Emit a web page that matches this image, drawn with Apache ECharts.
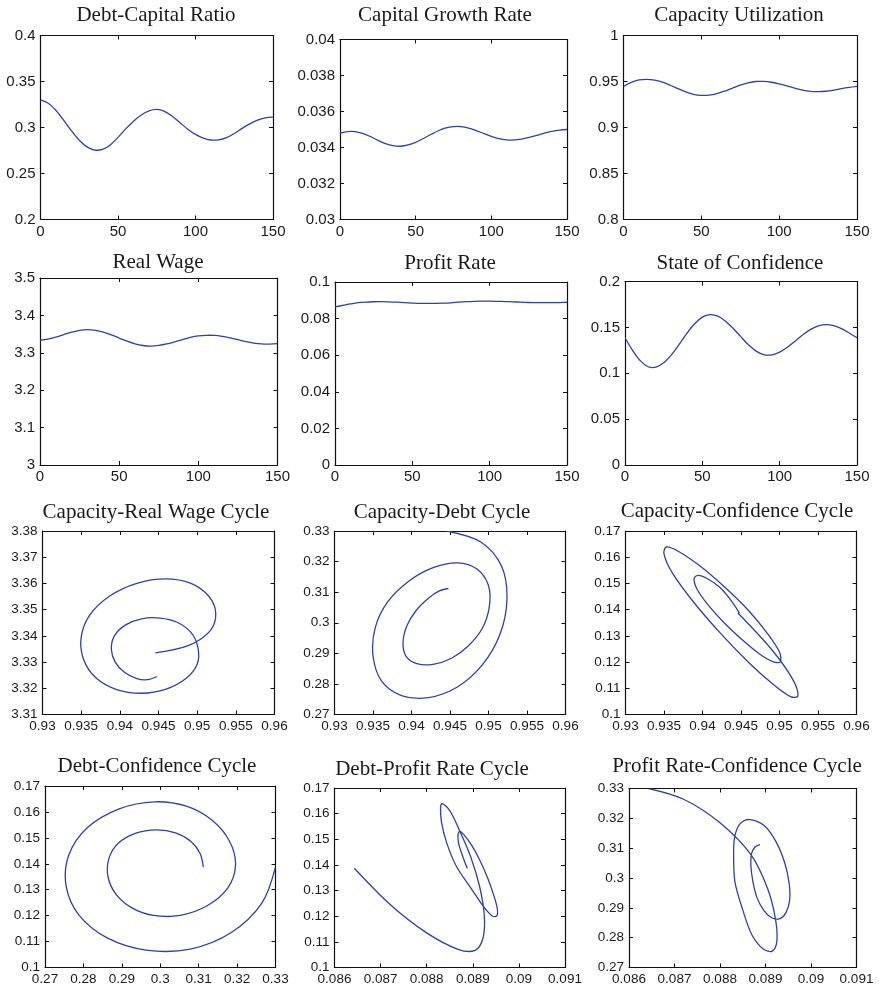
<!DOCTYPE html>
<html><head><meta charset="utf-8">
<script src="https://cdn.jsdelivr.net/npm/echarts@6/dist/echarts.min.js"></script>
<style>html,body{margin:0;padding:0;background:#fff}#c{width:879px;height:993px}</style>
</head><body><div id="c"></div>
<script>
// ---- data (time t = 0..150, step 5) ----
const T = [0,5,10,15,20,25,30,35,40,45,50,55,60,65,70,75,80,85,90,95,100,105,110,115,120,125,130,135,140,145,150];
const debtRatio = [0.3300,0.3264,0.3185,0.3078,0.2963,0.2862,0.2789,0.2755,0.2762,0.2810,0.2893,0.2985,0.3068,0.3135,0.3180,0.3196,0.3176,0.3122,0.3052,0.2982,0.2925,0.2884,0.2864,0.2866,0.2890,0.2935,0.2990,0.3040,0.3080,0.3104,0.3112];
const growthRate = [0.03480,0.03488,0.03488,0.03478,0.03461,0.03440,0.03422,0.03410,0.03407,0.03414,0.03429,0.03450,0.03472,0.03493,0.03509,0.03516,0.03516,0.03508,0.03494,0.03478,0.03462,0.03449,0.03442,0.03442,0.03447,0.03456,0.03467,0.03480,0.03490,0.03497,0.03500];
const capacity = [0.9446,0.9490,0.9517,0.9524,0.9515,0.9492,0.9459,0.9422,0.9387,0.9361,0.9350,0.9353,0.9369,0.9396,0.9428,0.9460,0.9485,0.9500,0.9501,0.9492,0.9474,0.9452,0.9428,0.9407,0.9393,0.9389,0.9394,0.9406,0.9422,0.9436,0.9448];
const realWage = [3.3335,3.3365,3.3420,3.3487,3.3551,3.3600,3.3617,3.3600,3.3552,3.3479,3.3395,3.3311,3.3240,3.3195,3.3181,3.3197,3.3236,3.3292,3.3355,3.3413,3.3452,3.3468,3.3465,3.3441,3.3400,3.3350,3.3300,3.3261,3.3237,3.3233,3.3245];
const profitRate = [0.08643,0.08720,0.08800,0.08868,0.08905,0.08922,0.08925,0.08915,0.08895,0.08870,0.08850,0.08833,0.08830,0.08832,0.08843,0.08864,0.08897,0.08923,0.08942,0.08952,0.08953,0.08945,0.08932,0.08915,0.08897,0.08881,0.08872,0.08868,0.08869,0.08877,0.08888];
const confidence = [0.1387,0.1247,0.1135,0.1071,0.1067,0.1114,0.1201,0.1314,0.1434,0.1539,0.1612,0.1639,0.1622,0.1568,0.1488,0.1396,0.1307,0.1238,0.1201,0.1201,0.1231,0.1284,0.1350,0.1419,0.1478,0.1517,0.1531,0.1519,0.1486,0.1439,0.1387];

const titles = ['Debt-Capital Ratio','Capital Growth Rate','Capacity Utilization','Real Wage','Profit Rate','State of Confidence',
  'Capacity-Real Wage Cycle','Capacity-Debt Cycle','Capacity-Confidence Cycle','Debt-Confidence Cycle','Debt-Profit Rate Cycle','Profit Rate-Confidence Cycle'];

// x / y series for each panel
const pairs = [
  [T, debtRatio],[T, growthRate],[T, capacity],[T, realWage],[T, profitRate],[T, confidence],
  [capacity, realWage],[capacity, debtRatio],[capacity, confidence],[debtRatio, confidence],[profitRate, confidence],[profitRate, debtRatio]
];
// axis ranges [min,max,interval]
const xRanges = [[0,150,50],[0,150,50],[0,150,50],[0,150,50],[0,150,50],[0,150,50],
  [0.93,0.96,0.005],[0.93,0.96,0.005],[0.93,0.96,0.005],[0.27,0.33,0.01],[0.086,0.091,0.001],[0.086,0.091,0.001]];
const yRanges = [[0.2,0.4,0.05],[0.03,0.04,0.002],[0.8,1,0.05],[3,3.5,0.1],[0,0.1,0.02],[0,0.2,0.05],
  [3.31,3.38,0.01],[0.27,0.33,0.01],[0.1,0.17,0.01],[0.1,0.17,0.01],[0.1,0.17,0.01],[0.27,0.33,0.01]];

// ---- layout (pixels) ----
const layout = [
  {l:40.5,t:35.5,r:273,b:219.5,tx:156,ty:15,fs:15},
  {l:340,t:39.5,r:567,b:219.5,tx:445,ty:15,fs:15},
  {l:623.5,t:35.5,r:857,b:219.5,tx:739,ty:15,fs:15},
  {l:40,t:278,r:277.5,b:465,tx:158,ty:262,fs:15},
  {l:335,t:282,r:567,b:465,tx:450,ty:263,fs:15},
  {l:625,t:281.5,r:857,b:465,tx:740,ty:263,fs:15},
  {l:42.5,t:531,r:274.5,b:714.5,tx:156,ty:512,fs:13.5},
  {l:334.5,t:531,r:565.5,b:714.5,tx:442,ty:512,fs:13.5},
  {l:625.5,t:531,r:856.5,b:714.5,tx:737,ty:511,fs:13.5},
  {l:45,t:786,r:275.5,b:967.5,tx:157,ty:766,fs:13.5},
  {l:334.5,t:788,r:565,b:967.5,tx:432,ty:769,fs:13.5},
  {l:629,t:788.5,r:856.5,b:967.5,tx:737,ty:766,fs:13.5}
];

const LINE = '#2c41ab';
const TXT = '#1a1a1a';
const grids = [], xAxes = [], yAxes = [], series = [], graphics = [];

function mkAxis(kind, gi, pos, rng, fs, showLabel){
  return {
    type:'value', gridIndex:gi, position:pos,
    min:rng[0], max:rng[1], interval:rng[2],
    axisLine:{show:true, onZero:false, lineStyle:{color:'#111', width:1.2}},
    axisTick:{show:true, inside:true, length:4, lineStyle:{color:'#111', width:1}},
    axisLabel:{show:showLabel, margin: kind==='x'?4.5:5, fontSize:fs, fontFamily:'Liberation Sans, Arial, sans-serif', color:TXT,
      showMinLabel:true, showMaxLabel:true, hideOverlap:false},
    splitLine:{show:false}, splitArea:{show:false}
  };
}

function makeRenderer(xs, ys){
  return function(params, api){
    if (params.dataIndex !== 0) return null;
    const cs = params.coordSys;
    const pts = xs.map((x,k)=>api.coord([x, ys[k]]));
    return {
      type:'polyline', silent:true,
      shape:{points:pts, smooth:0.33},
      style:{stroke:LINE, lineWidth:1.3, fill:'none', lineJoin:'round'},
      clipPath:{type:'rect', shape:{x:cs.x, y:cs.y, width:cs.width, height:cs.height}}
    };
  };
}

layout.forEach((p,i)=>{
  grids.push({left:p.l, top:p.t, width:p.r-p.l, height:p.b-p.t, containLabel:false, outerBoundsMode:'none', show:false});
  xAxes.push(mkAxis('x', i, 'bottom', xRanges[i], p.fs, true));
  xAxes.push(mkAxis('x', i, 'top', xRanges[i], p.fs, false));
  yAxes.push(mkAxis('y', i, 'left', yRanges[i], p.fs, true));
  yAxes.push(mkAxis('y', i, 'right', yRanges[i], p.fs, false));
  const xs = pairs[i][0], ys = pairs[i][1];
  series.push({
    type:'custom', coordinateSystem:'cartesian2d', xAxisIndex:2*i, yAxisIndex:2*i,
    data: xs.map((x,k)=>[x, ys[k]]),
    encode:{x:0, y:1},
    renderItem: makeRenderer(xs, ys),
    silent:true
  });
  graphics.push({type:'text', x:p.tx, y:p.ty, style:{text:titles[i], fill:TXT, font:'21px "Liberation Serif", "Times New Roman", serif', textAlign:'center', textVerticalAlign:'middle'}});
});

const chart = echarts.init(document.getElementById('c'), null, {renderer:'canvas'});
chart.setOption({
  animation:false, backgroundColor:'#fff',
  grid:grids, xAxis:xAxes, yAxis:yAxes, series:series, graphic:graphics,
  tooltip:{show:false}
});
</script>
</body></html>
